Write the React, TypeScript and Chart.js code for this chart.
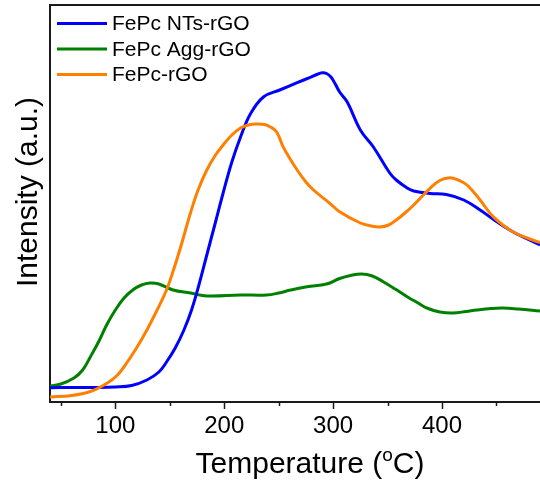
import { useEffect, useRef } from 'react';
import { Chart, registerables } from 'chart.js';

Chart.register(...registerables);

const FONT = '"Liberation Sans", Arial, Helvetica, sans-serif';

// Series names and colours
const seriesNames = ['FePc NTs-rGO', 'FePc Agg-rGO', 'FePc-rGO'];
const seriesColors = ['#0000ff', '#008000', '#ff8000'];

// FePc NTs-rGO (blue)
const ntsTemp = [40, 60, 80, 100, 115, 129, 140, 147, 155, 163, 170, 177, 184, 192, 199, 207, 215, 224, 236, 251, 267, 279, 285, 290, 294, 298, 302, 306, 313, 325, 337, 352, 358, 368, 374, 389, 404, 420, 435, 450, 465, 490];
const ntsInt = [14.3, 14.5, 14.5, 15, 16.5, 22, 30, 40, 54, 72, 92, 118, 147, 180, 209, 240, 265, 288, 305, 312, 319.3, 324.7, 327.5, 329.3, 328.5, 325, 318, 310, 300, 272, 255, 229, 222, 214, 211, 208.5, 207.5, 202, 192, 180.5, 170.3, 157];

// FePc Agg-rGO (green)
const aggTemp = [40, 50, 62, 70, 77, 85, 92, 100, 108, 116, 124, 132, 140, 153, 169, 184, 215, 239, 250, 261, 276, 294, 306, 316, 326, 336, 346, 357, 368, 378, 386, 398, 410, 422, 432, 445, 456, 470, 490];
const aggInt = [16, 18, 24, 32, 45, 61, 77, 92, 104, 112, 117, 119, 118, 112, 109, 106, 107, 107, 109, 112, 115.3, 118, 123.5, 126.5, 128, 126, 120.3, 113, 105.3, 99, 94, 90, 89, 90.5, 92, 93.5, 94, 93, 91];

// FePc-rGO (orange)
const pcTemp = [40, 60, 77, 92, 102, 111, 120, 129, 137, 147, 154, 160, 169, 176, 184, 192, 199, 207, 215, 222, 230, 237, 242, 248, 254, 260, 267, 275, 282, 297, 306, 325, 335, 343, 351, 358, 366, 374, 389, 398, 407, 415, 423, 435, 447, 465, 490];
const pcInt = [5, 6.5, 10.5, 18.5, 27, 40, 55, 72, 89, 112, 134, 155, 189, 212, 232, 247, 257, 267, 274, 277, 278, 277.5, 275.3, 270.3, 255.3, 244, 232, 220, 212, 198.7, 190.3, 179, 176, 175, 177, 182, 189, 197, 213.7, 221.5, 224.3, 222, 217, 202, 185.3, 170.3, 159.3];

// Axis settings
const xMin = 40;
const xMax = 490;
const yMin = 0;
const yMax = 397;
const xMajorTicks = [100, 200, 300, 400];
const xMinorTicks = [50, 150, 250, 350, 450];
const xTitle = 'Temperature (';
const xTitleSup = 'o';
const xTitleEnd = 'C)';
const yTitle = 'Intensity (a.u.)';

const decorPlugin = {
  id: 'decor',
  afterDraw(chart: any) {
    const { ctx, chartArea: a } = chart;
    const xs = chart.scales.x;
    ctx.save();
    // top frame line
    ctx.strokeStyle = '#1a1a1a';
    ctx.lineWidth = 2;
    ctx.beginPath();
    ctx.moveTo(a.left - 1, a.top);
    ctx.lineTo(a.right, a.top);
    ctx.stroke();
    // minor ticks
    ctx.lineWidth = 1.5;
    xMinorTicks.forEach((v) => {
      const px = Math.round(xs.getPixelForValue(v)) + 0.5;
      ctx.beginPath();
      ctx.moveTo(px, a.bottom);
      ctx.lineTo(px, a.bottom + 4);
      ctx.stroke();
    });
    // legend
    const rows = [23.5, 49, 74.5];
    chart.data.datasets.forEach((ds: any, i: number) => {
      const y = rows[i];
      ctx.strokeStyle = ds.borderColor;
      ctx.lineWidth = 3;
      ctx.beginPath();
      ctx.moveTo(57, y);
      ctx.lineTo(107, y);
      ctx.stroke();
      ctx.fillStyle = '#000';
      ctx.font = `21px ${FONT}`;
      ctx.textAlign = 'left';
      ctx.textBaseline = 'middle';
      ctx.fillText(ds.label, 112, y + 1);
    });
    // x title with superscript degree
    ctx.fillStyle = '#000';
    ctx.textBaseline = 'alphabetic';
    ctx.textAlign = 'left';
    ctx.font = `30px ${FONT}`;
    const w1 = ctx.measureText(xTitle).width;
    const w3 = ctx.measureText(xTitleEnd).width;
    ctx.font = `19px ${FONT}`;
    const w2 = ctx.measureText(xTitleSup).width;
    const total = w1 + w2 + w3;
    const sx = 310 - total / 2;
    const base = 473;
    ctx.font = `30px ${FONT}`;
    ctx.fillText(xTitle, sx, base);
    ctx.font = `19px ${FONT}`;
    ctx.fillText(xTitleSup, sx + w1, base - 12);
    ctx.font = `30px ${FONT}`;
    ctx.fillText(xTitleEnd, sx + w1 + w2, base);
    // y title
    ctx.translate(37, 192);
    ctx.rotate(-Math.PI / 2);
    ctx.textAlign = 'center';
    ctx.textBaseline = 'alphabetic';
    ctx.fillText(yTitle, 0, 0);
    ctx.restore();
  },
};

function toPoints(xs: number[], ys: number[]) {
  return xs.map((x, i) => ({ x, y: ys[i] }));
}

export default function App() {
  const ref = useRef<HTMLCanvasElement | null>(null);
  useEffect(() => {
    if (!ref.current) return;
    const temps = [ntsTemp, aggTemp, pcTemp];
    const ints = [ntsInt, aggInt, pcInt];
    const orders = [1, 2, 0];
    const chart = new Chart(ref.current, {
      type: 'line',
      data: {
        datasets: seriesNames.map((name, i) => ({
          label: name,
          data: toPoints(temps[i], ints[i]),
          borderColor: seriesColors[i],
          backgroundColor: seriesColors[i],
          borderWidth: 3,
          pointRadius: 0,
          fill: false,
          tension: 0.4,
          order: orders[i],
        })),
      },
      options: {
        animation: false,
        responsive: true,
        maintainAspectRatio: false,
        layout: { padding: { left: 0, right: 0, top: 5, bottom: 0 } },
        plugins: { legend: { display: false }, tooltip: { enabled: false } },
        scales: {
          x: {
            type: 'linear',
            min: xMin,
            max: xMax,
            afterFit: (s: any) => { s.height = 78; },
            afterBuildTicks: (s: any) => {
              s.ticks = xMajorTicks.map((v) => ({ value: v }));
            },
            ticks: {
              autoSkip: false,
              maxRotation: 0,
              color: '#000',
              padding: 3,
              font: { family: FONT, size: 24 },
              callback: (v: any) => String(v),
            },
            grid: {
              display: true,
              drawOnChartArea: false,
              drawTicks: true,
              tickLength: 7,
              tickColor: '#1a1a1a',
              tickWidth: 1.5,
            },
            border: { display: true, color: '#1a1a1a', width: 2 },
          },
          y: {
            type: 'linear',
            min: yMin,
            max: yMax,
            afterFit: (s: any) => { s.width = 50; },
            ticks: { display: false },
            grid: { display: false, drawTicks: false },
            border: { display: true, color: '#1a1a1a', width: 2 },
          },
        },
      },
      plugins: [decorPlugin],
    });
    return () => chart.destroy();
  }, []);
  return (
    <div style={{ position: 'fixed', left: 0, top: 0, width: 540, height: 480, background: '#fff' }}>
      <canvas ref={ref} />
    </div>
  );
}
